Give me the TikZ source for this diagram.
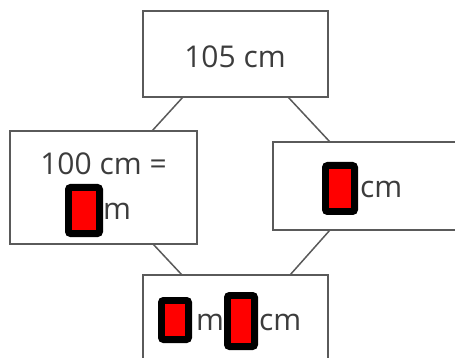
\documentclass[tikz,border=0pt]{standalone}
\usepackage{fontspec}
\setmainfont{Open Sans}
\definecolor{edge}{HTML}{5A5A5A}
\definecolor{ink}{HTML}{3C3C3C}
\begin{document}
\begin{tikzpicture}[x=1pt,y=-1pt,
  box/.style={draw=edge,line width=1.5pt,fill=white,rectangle,inner sep=0pt,outer sep=0pt},
  link/.style={draw=edge,line width=1.5pt},
  lbl/.style={text=ink,font=\fontsize{30}{34}\selectfont,inner sep=0pt},
  blk/.style={fill=black,rounded corners=5pt,inner sep=0pt,outer sep=0pt},
  redin/.style={fill=red,inner sep=0pt,outer sep=0pt}]
\useasboundingbox (0,0) rectangle (455,358);
\fill[white] (0,0) rectangle (455,358);
% boxes
\node[box,minimum width=185,minimum height=86] (top) at (235.5,54) {};
\node[box,minimum width=187,minimum height=113] (left) at (103.5,187.5) {};
\node[box,minimum width=207,minimum height=88] (right) at (376.5,186) {};
\node[box,minimum width=185,minimum height=87] (bottom) at (235.5,318.5) {};
% connectors
\draw[link] ([xshift=40pt]top.south west) -- ([xshift=142pt]left.north west);
\draw[link] ([xshift=145pt]top.south west) -- ([xshift=57pt]right.north west);
\draw[link] ([xshift=143pt]left.south west) -- ([xshift=39pt]bottom.north west);
\draw[link] ([xshift=57pt]right.south west) -- ([xshift=147pt]bottom.north west);
% texts
\node[lbl,anchor=base] (t1) at (235,68) {105 cm};
\node[lbl,anchor=base] (t2) at (103.5,175) {100 cm =};
\node[lbl,anchor=base west] (t3) at (103,220) {m};
\node[lbl,anchor=base west] (t4) at (360,198) {cm};
\node[lbl,anchor=base west] (t5) at (196,330) {m};
\node[lbl,anchor=base west] (t6) at (259,330) {cm};
% answer markers
\node[blk,minimum width=38,minimum height=53] (m1) at (84,210.5) {};
\node[redin,minimum width=24,minimum height=39] (r1) at (m1) {};
\node[blk,minimum width=36,minimum height=53] (m2) at (340,188.5) {};
\node[redin,minimum width=22,minimum height=39] (r2) at (m2) {};
\node[blk,minimum width=34,minimum height=46] (m3) at (175,320) {};
\node[redin,minimum width=20,minimum height=32] (r3) at (m3) {};
\node[blk,minimum width=34,minimum height=58] (m4) at (241,321) {};
\node[redin,minimum width=20,minimum height=44] (r4) at (m4) {};
\end{tikzpicture}
\end{document}
